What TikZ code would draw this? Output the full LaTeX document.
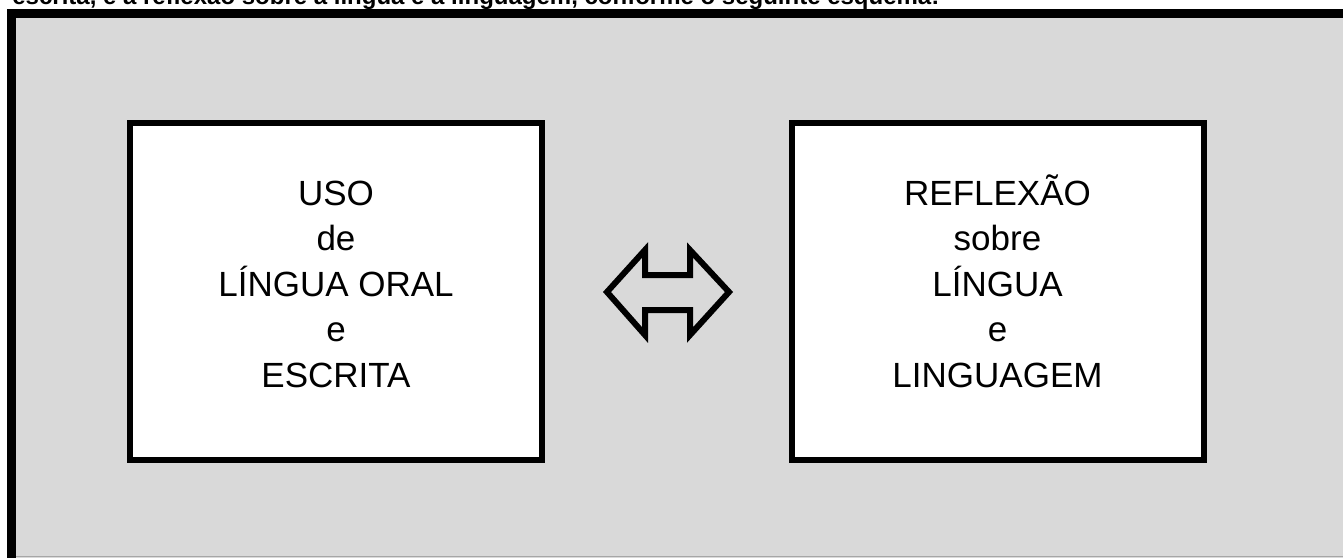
\documentclass[tikz,border=0pt]{standalone}
\usepackage{fontspec}
\setmainfont{Liberation Sans}
\definecolor{bggray}{HTML}{D9D9D9}
\tikzset{
  px/.style={x=0.5pt,y=-0.5pt},
  textbox/.style={draw=black,line width=3pt,fill=white,minimum width=206pt,minimum height=168.5pt,inner sep=0pt},
  boxline/.style={anchor=base,inner sep=0pt,font=\fontsize{17.5pt}{21pt}\selectfont},
  blockarrow/.style={draw=black,line width=3pt,line join=miter,fill=bggray},
}
\begin{document}
\begin{tikzpicture}[px]
\useasboundingbox (0,0) rectangle (1343,557);
\clip (0,0) rectangle (1343,557);
\fill[white] (0,0) rectangle (1343,557);
% cut-off caption line at top
\node[anchor=base west,inner sep=0pt,font=\bfseries\fontsize{12pt}{14pt}\selectfont] (caption) at (12,4)
  {escrita, e a reflexão sobre a língua e a linguagem, conforme o seguinte esquema:};
% frame
\draw[line width=4.5pt,fill=bggray] (11.5,13.5) rectangle (1380,590);
\draw[line width=0.6pt,draw=gray!70] (16,556.3) -- (1343,556.3);
% boxes
\node[textbox] (uso) at (336.25,291.5) {};
\node[boxline] (u1) at (336,205) {USO};
\node[boxline] (u2) at (336,250.5) {de};
\node[boxline] (u3) at (336,296) {LÍNGUA ORAL};
\node[boxline] (u4) at (336,341.5) {e};
\node[boxline] (u5) at (336,387) {ESCRITA};
\node[textbox] (refl) at (997.5,291.5) {};
\node[boxline] (r1) at (997.5,205) {REFLEXÃO};
\node[boxline] (r2) at (997.5,250.5) {sobre};
\node[boxline] (r3) at (997.5,296) {LÍNGUA};
\node[boxline] (r4) at (997.5,341.5) {e};
\node[boxline] (r5) at (997.5,387) {LINGUAGEM};
% double block arrow
\draw[blockarrow] (607,292) -- (645,250) -- (645,275) -- (690,275) -- (690,250)
  -- (729,292) -- (690,335) -- (690,310) -- (645,310) -- (645,335) -- cycle;
\end{tikzpicture}
\end{document}
